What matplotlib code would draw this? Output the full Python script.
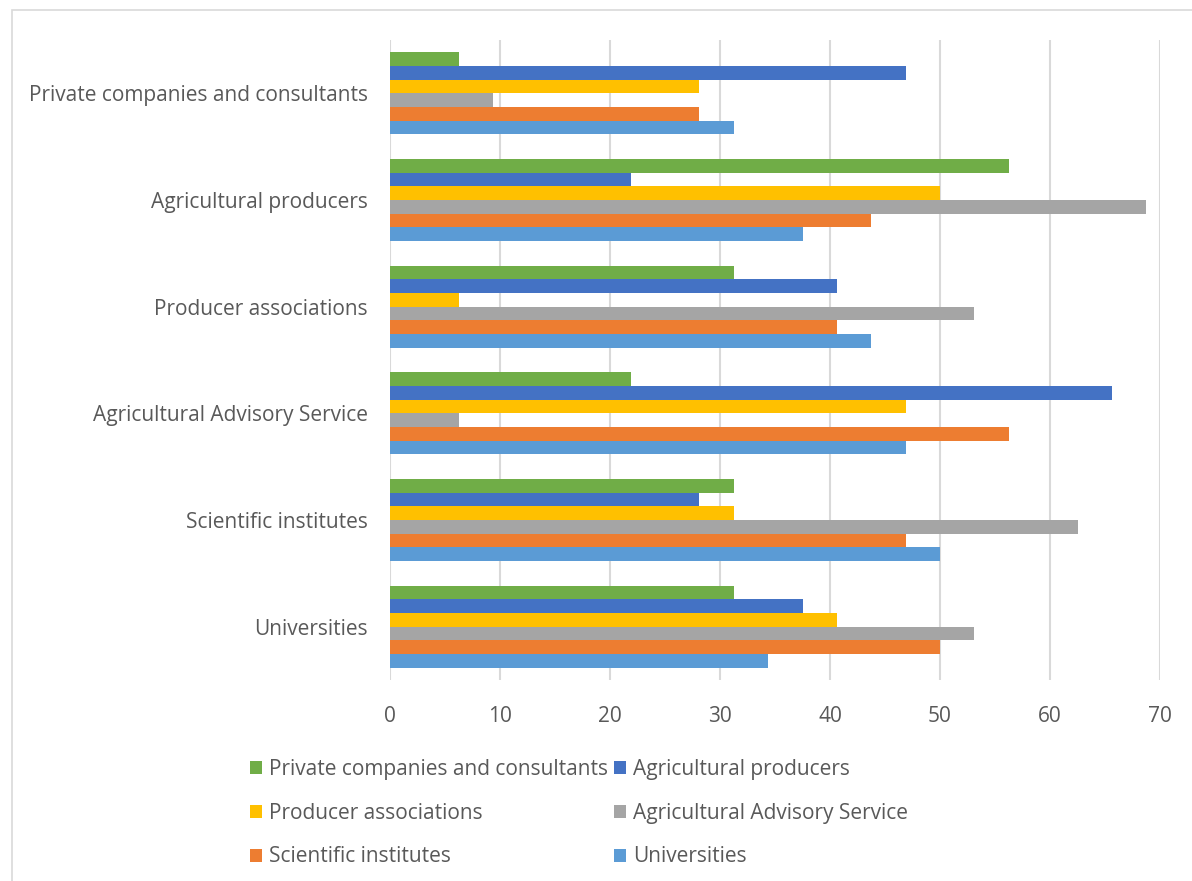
import matplotlib.pyplot as plt
import matplotlib.patches as mpatches
import numpy as np

plt.rcParams['font.family'] = ['Open Sans', 'DejaVu Sans']

# categories, bottom to top (as Excel draws them)
categories = ['Universities', 'Scientific institutes', 'Agricultural Advisory Service',
              'Producer associations', 'Agricultural producers',
              'Private companies and consultants']

# series values (%), one entry per category above
universities = [34.375, 50.0, 46.875, 43.75, 37.5, 31.25]
scientific = [50.0, 46.875, 56.25, 40.625, 43.75, 28.125]
advisory = [53.125, 62.5, 6.25, 53.125, 68.75, 9.375]
associations = [40.625, 31.25, 46.875, 6.25, 50.0, 28.125]
producers = [37.5, 28.125, 65.625, 40.625, 21.875, 46.875]
private = [31.25, 31.25, 21.875, 31.25, 56.25, 6.25]

series = [
    ('Universities', universities, '#5B9BD5'),
    ('Scientific institutes', scientific, '#ED7D31'),
    ('Agricultural Advisory Service', advisory, '#A5A5A5'),
    ('Producer associations', associations, '#FFC000'),
    ('Agricultural producers', producers, '#4472C4'),
    ('Private companies and consultants', private, '#70AD47'),
]
x_ticks = [0, 10, 20, 30, 40, 50, 60, 70]

text_col = '#595959'

fig = plt.figure(figsize=(11.92, 8.81), dpi=100)
ax = fig.add_axes([0.3272, 0.2282, 0.646, 0.7264])

# chart area border
fig.patches.append(mpatches.Rectangle((12 / 1192, -0.1), 1.2, 1 - 10 / 881 + 0.1,
                                      transform=fig.transFigure, fill=False,
                                      edgecolor='#D9D9D9', linewidth=1.2))

y = np.arange(len(categories))
h = 0.128
n = len(series)
for i, (name, vals, col) in enumerate(series):
    offset = (i - (n - 1) / 2) * h
    ax.barh(y + offset, vals, height=h, color=col, label=name, zorder=3)

ax.set_xlim(0, 70)
ax.set_ylim(-0.5, 5.5)
ax.set_xticks(x_ticks)
ax.set_yticks(y)
ax.set_yticklabels(categories)
ax.grid(axis='x', color='#D9D9D9', linewidth=1.5, zorder=0)
for s in ax.spines.values():
    s.set_visible(False)
ax.tick_params(length=0, labelsize=15, colors=text_col)
ax.tick_params(axis='y', pad=16)
ax.tick_params(axis='x', pad=19)

handles, labels = ax.get_legend_handles_labels()
hmap = dict(zip(labels, handles))
order = ['Private companies and consultants', 'Producer associations', 'Scientific institutes',
         'Agricultural producers', 'Agricultural Advisory Service', 'Universities']
leg = fig.legend([hmap[k] for k in order], order, ncol=2, loc='upper left',
                 bbox_to_anchor=(233 / 1192, 1 - 742 / 881), frameon=False,
                 fontsize=15, handlelength=0.6, handleheight=0.6, handletextpad=0.35,
                 columnspacing=0.25, labelspacing=1.1, borderpad=0.3)
for t in leg.get_texts():
    t.set_color(text_col)

fig.savefig('out.png', dpi=100)
